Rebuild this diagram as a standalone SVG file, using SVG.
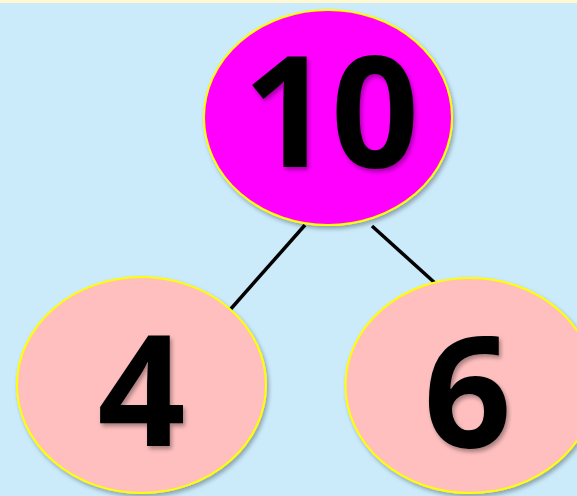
<svg xmlns="http://www.w3.org/2000/svg" width="577" height="496" viewBox="0 0 577 496">
<defs>
<style>
.node{stroke:#FFFF00;stroke-width:2}
.num{font-family:"Open Sans","Liberation Sans",sans-serif;font-weight:700;font-size:154px;fill:#000;text-anchor:middle}
.conn{stroke:#000;stroke-width:3.5;fill:none}
</style>
<filter id="sh" x="-10%" y="-10%" width="130%" height="130%">
<feDropShadow dx="2" dy="3" stdDeviation="2" flood-color="#000" flood-opacity="0.3"/>
</filter>
<filter id="tsh" x="-10%" y="-10%" width="130%" height="130%">
<feDropShadow dx="2" dy="3" stdDeviation="2" flood-color="#000" flood-opacity="0.35"/>
</filter>
</defs>
<rect x="0" y="0" width="577" height="496" fill="#CBEBFB"/>
<rect x="0" y="0" width="577" height="3" fill="#FFF8D2"/>
<g id="connectors">
<line class="conn" x1="305" y1="225" x2="229" y2="311"/>
<line class="conn" x1="372" y1="226" x2="435" y2="283"/>
</g>
<g id="node-10">
<ellipse class="node" cx="328" cy="117.5" rx="124" ry="107.5" fill="#FF00FF" filter="url(#sh)"/>
<text class="num" x="331" y="167" filter="url(#tsh)">10</text>
</g>
<g id="node-4">
<ellipse class="node" cx="141.5" cy="385" rx="124.5" ry="108" fill="#FFBFBF" filter="url(#sh)"/>
<text class="num" x="141.5" y="446" filter="url(#tsh)">4</text>
</g>
<g id="node-6">
<ellipse class="node" cx="470" cy="385.5" rx="124.5" ry="107.5" fill="#FFBFBF" filter="url(#sh)"/>
<text class="num" x="467.5" y="447" filter="url(#tsh)">6</text>
</g>
</svg>
